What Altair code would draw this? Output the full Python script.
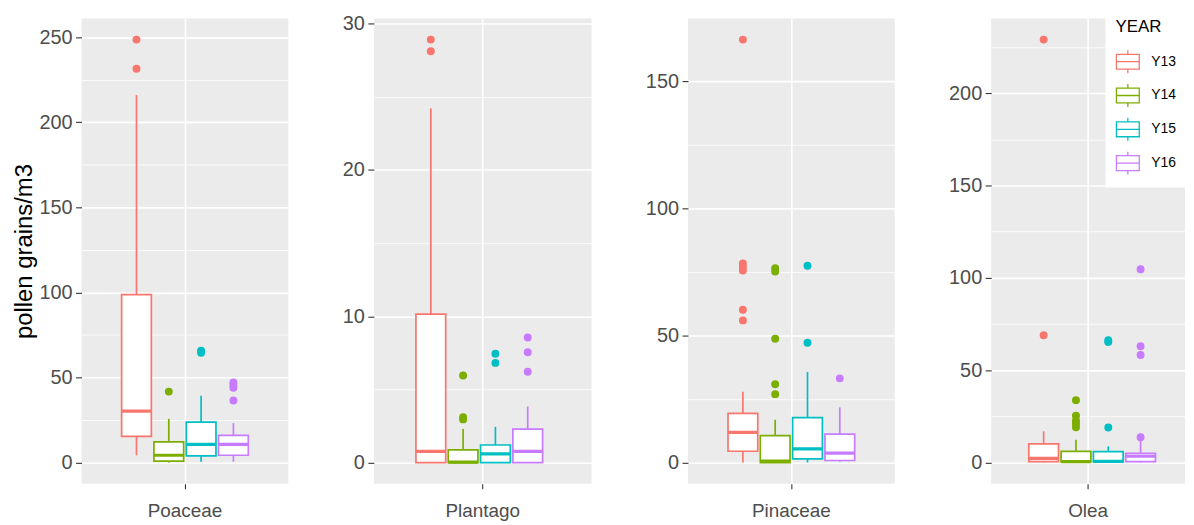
import altair as alt
import pandas as pd

TAXA = ["Poaceae", "Plantago", "Pinaceae", "Olea"]
YEARS = ["Y13", "Y14", "Y15", "Y16"]
COLORS = ["#F8766D", "#7CAE00", "#00BFC4", "#C77CFF"]

# Box-plot statistics per taxon, in YEARS order
LOWER = {"Poaceae": [4.3, 0, 0.5, 0.5], "Plantago": [0, 0, 0, 0],
         "Pinaceae": [0, 0, 0, 0.3], "Olea": [0, 0, 0, 0]}
Q1 = {"Poaceae": [15.4, 0.8, 3.9, 4.3], "Plantago": [0, 0, 0, 0],
      "Pinaceae": [4.45, 0, 1.45, 0.8], "Olea": [0.5, 0.3, 0.3, 0.5]}
MEDIAN = {"Poaceae": [30.2, 4.3, 10.7, 10.7], "Plantago": [0.77, 0.03, 0.59, 0.77],
          "Pinaceae": [11.9, 0.6, 5.4, 3.7], "Olea": [2.3, 0.5, 0.6, 3.4]}
Q3 = {"Poaceae": [98.7, 12.1, 23.8, 16.0], "Plantago": [10.14, 0.86, 1.2, 2.29],
      "Pinaceae": [19.3, 10.6, 17.7, 11.2], "Olea": [10.1, 6.1, 5.9, 5.0]}
UPPER = {"Poaceae": [216, 25.7, 39.3, 23.2], "Plantago": [24.2, 2.29, 2.44, 3.83],
         "Pinaceae": [27.8, 16.8, 35.6, 21.7], "Olea": [16.9, 12.4, 8.8, 12.0]}

# Outliers per taxon and year
OUTLIERS = {
    "Poaceae": {"Y13": [248.6, 231.5], "Y14": [41.7], "Y15": [65.8, 64.5],
                "Y16": [47.0, 45.5, 44.0, 36.5]},
    "Plantago": {"Y13": [28.9, 28.1], "Y14": [5.95, 3.1, 2.95], "Y15": [7.43, 6.81],
                 "Y16": [8.55, 7.54, 6.2]},
    "Pinaceae": {"Y13": [166.3, 78.3, 77.0, 75.5, 60.1, 55.9],
                 "Y14": [76.4, 75.1, 48.7, 30.8, 26.9], "Y15": [77.4, 47.1], "Y16": [33.1]},
    "Olea": {"Y13": [229.0, 68.9], "Y14": [33.8, 25.3, 22.6, 21.0, 19.1],
             "Y15": [66.2, 65.3, 19.0], "Y16": [104.7, 63.0, 58.2, 13.7]},
}

Y_TICKS = {"Poaceae": [0, 25, 50, 75, 100, 125, 150, 175, 200, 225, 250],
           "Plantago": [0, 5, 10, 15, 20, 25, 30],
           "Pinaceae": [0, 25, 50, 75, 100, 125, 150],
           "Olea": [0, 25, 50, 75, 100, 125, 150, 175, 200, 225]}
MAJOR_STEP = {"Poaceae": 50, "Plantago": 10, "Pinaceae": 50, "Olea": 50}

rows = []
for t in TAXA:
    for j, yr in enumerate(YEARS):
        rows.append(dict(taxon=t, YEAR=yr, lo=LOWER[t][j], q1=Q1[t][j], med=MEDIAN[t][j],
                         q3=Q3[t][j], hi=UPPER[t][j]))
box = pd.DataFrame(rows)
orows = []
for t in TAXA:
    for yr in YEARS:
        for v in OUTLIERS[t][yr]:
            orows.append(dict(taxon=t, YEAR=yr, value=v))
outl = pd.DataFrame(orows)

FONT = "Liberation Sans"
WIDTHS = [208, 219, 208, 195]
HEIGHT = 468
BOX_PATH = "M-1,-0.65H1V0.65H-1Z M-1,0H1 M0,-0.65V-1 M0,0.65V1"

cscale = alt.Scale(domain=YEARS, range=COLORS)
legend = alt.Legend(orient="none", legendX=1030, legendY=-9, direction="vertical",
                    title="YEAR", titleFontSize=17, titleFontWeight="normal",
                    titleColor="black", titleFont=FONT, titlePadding=13,
                    labelFontSize=14, labelColor="black", labelFont=FONT, labelOffset=11,
                    symbolType=BOX_PATH, symbolSize=529, symbolFillColor="white",
                    symbolStrokeWidth=1.3, fillColor="white", padding=10, rowPadding=5)


def panel(i, tax):
    b = box[box.taxon == tax]
    o = outl[outl.taxon == tax]
    vmax = max(b.hi.max(), o.value.max())
    vmin = min(b.lo.min(), 0)
    pad = 0.05 * (vmax - vmin)
    yscale = alt.Scale(domain=[vmin - pad, vmax + pad], nice=False, zero=False)
    step = MAJOR_STEP[tax]
    major = f"datum.value % {step} === 0"
    ykw = dict(values=Y_TICKS[tax], labelExpr=f"{major} ? datum.label : ''",
               gridColor="white",
               gridWidth={"condition": {"test": major, "value": 1.6}, "value": 0.8},
               tickOpacity={"condition": {"test": major, "value": 1}, "value": 0},
               labelFontSize=20, labelColor="#4D4D4D", labelFont=FONT,
               tickColor="#333333", tickSize=6, tickWidth=1.1, labelPadding=3.5,
               domain=False)
    if i == 0:
        ykw.update(title="pollen grains/m3", titleFontSize=24, titleColor="black",
                   titleFontWeight="normal", titleFont=FONT, titlePadding=2)
    else:
        ykw.update(title="")
    yaxis = alt.Axis(**ykw)
    xaxis = alt.Axis(title="", labelFontSize=19, labelColor="#4D4D4D", labelFont=FONT,
                     labelAngle=0, tickSize=5, tickColor="#333333", tickWidth=1.1,
                     labelPadding=13, domain=False, grid=True, gridColor="white",
                     gridWidth=1.6, bandPosition=0.5)
    xenc = alt.X("taxon:N", scale=alt.Scale(paddingOuter=0.3, paddingInner=0), axis=xaxis)
    xoff = alt.XOffset("YEAR:N", scale=alt.Scale(domain=YEARS, paddingInner=0.08,
                                                 paddingOuter=0.04))
    stroke = alt.Stroke("YEAR:N", scale=cscale, legend=legend)
    base = alt.Chart(b)
    wlo = base.mark_rule(strokeWidth=1.7).encode(
        x=xenc, xOffset=xoff, y=alt.Y("lo:Q", scale=yscale, axis=yaxis), y2="q1:Q", stroke=stroke)
    whi = base.mark_rule(strokeWidth=1.7).encode(
        x=xenc, xOffset=xoff, y=alt.Y("q3:Q", scale=yscale, axis=yaxis), y2="hi:Q", stroke=stroke)
    fillbox = base.mark_rect(fill="white", strokeWidth=0).encode(
        x=xenc, xOffset=xoff, y=alt.Y("q1:Q", scale=yscale, axis=yaxis), y2="q3:Q")
    rect = base.mark_rect(filled=False, strokeWidth=1.7).encode(
        x=xenc, xOffset=xoff, y=alt.Y("q1:Q", scale=yscale, axis=yaxis), y2="q3:Q", stroke=stroke)
    med = base.mark_rect(filled=False, strokeWidth=3.2).encode(
        x=xenc, xOffset=xoff, y=alt.Y("med:Q", scale=yscale, axis=yaxis), y2="med:Q", stroke=stroke)
    pts = alt.Chart(o).mark_point(shape="circle", filled=False, size=16, strokeWidth=4,
                                  opacity=1).encode(
        x=xenc, xOffset=xoff, y=alt.Y("value:Q", scale=yscale, axis=yaxis), stroke=stroke)
    return alt.layer(wlo, whi, fillbox, rect, med, pts).properties(width=WIDTHS[i], height=HEIGHT)


chart = alt.hconcat(*[panel(i, t) for i, t in enumerate(TAXA)], spacing=54).resolve_scale(
    y="independent", x="independent"
).properties(
    padding={"left": 5, "top": 0, "right": 0, "bottom": 0}
).configure(font=FONT).configure_view(fill="#EBEBEB", stroke=None)

chart.save("out.html", embed_options={"renderer": "svg", "actions": False})
